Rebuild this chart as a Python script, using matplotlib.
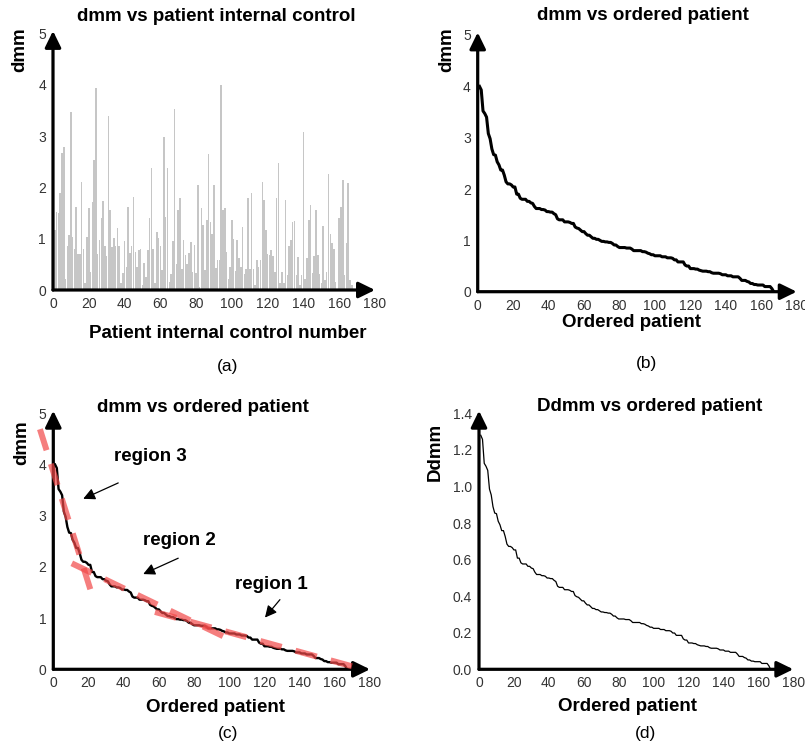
import matplotlib
matplotlib.use('Agg')
import matplotlib.pyplot as plt
import numpy as np

plt.rcParams['font.family'] = ['Liberation Sans', 'DejaVu Sans']

# ---------------- data ----------------
dmm = [1.17, 1.52, 1.50, 1.90, 2.67, 2.78, 0.22, 0.85, 1.07, 3.47,
       1.04, 0.80, 1.62, 0.70, 0.70, 2.10, 0.80, 0.13, 1.04, 1.60,
       0.36, 1.72, 2.53, 3.93, 0.70, 0.97, 1.40, 1.73, 0.86, 0.66,
       3.40, 1.55, 0.83, 1.02, 0.86, 1.20, 0.86, 0.13, 0.33, 0.96,
       0.45, 1.62, 0.72, 0.86, 1.82, 0.74, 0.45, 0.78, 0.80, 0.10,
       0.52, 0.26, 0.78, 1.40, 2.37, 0.80, 0.13, 1.13, 1.02, 0.85,
       0.39, 2.98, 1.42, 2.37, 0.16, 0.31, 0.96, 3.52, 0.50, 1.55,
       1.80, 0.40, 0.98, 0.68, 0.50, 0.72, 0.94, 0.36, 0.88, 0.33,
       2.04, 0.06, 1.60, 1.26, 0.39, 1.36, 2.66, 1.33, 1.10, 2.04,
       0.42, 0.58, 0.58, 4.00, 1.56, 1.59, 0.75, 0.22, 0.45, 1.36,
       1.00, 0.37, 0.97, 0.62, 0.44, 1.23, 0.31, 0.40, 1.80, 0.40,
       1.90, 0.41, 0.10, 0.58, 0.44, 0.58, 2.10, 1.76, 1.17, 0.70,
       0.68, 0.77, 0.66, 0.36, 1.80, 2.47, 0.14, 0.36, 0.13, 1.76,
       0.29, 0.85, 0.98, 1.33, 1.35, 0.29, 0.65, 0.10, 0.29, 3.08,
       0.22, 0.62, 1.36, 1.66, 0.33, 0.66, 1.56, 0.68, 0.31, 0.14,
       1.24, 0.20, 0.35, 2.27, 1.10, 0.91, 0.80, 0.16, 0.00, 1.40,
       1.62, 2.14, 0.29, 0.91, 2.08, 0.19, 0.10]
patients = np.arange(1, len(dmm) + 1)

ordered_dmm = sorted(dmm, reverse=True)
ordered_x = np.arange(1, len(ordered_dmm) + 1)
DDMM_SCALE = 0.32
ddmm = [v * DDMM_SCALE for v in ordered_dmm]

# fitted straight lines of panel (c): (x pair, y pair)
region3_x, region3_y = [-7.6, 21.8], [4.69, 1.48]
region2_x, region2_y = [10.5, 97.5], [2.07, 0.63]
region1_x, region1_y = [57.8, 176.0], [1.12, 0.00]

region_labels = ['region 3', 'region 2', 'region 1']
region_text_xy = [(55, 4.15), (71.6, 2.52), (124, 1.66)]
region_arrow_from = [(36.9, 3.64), (71.0, 2.17), (128.8, 1.36)]
region_arrow_to = [(17.0, 3.33), (51.1, 1.86), (120.3, 1.01)]

x_ticks = list(range(0, 181, 20))
dmm_ticks = [0, 1, 2, 3, 4, 5]
ddmm_ticks = [0.0, 0.2, 0.4, 0.6, 0.8, 1.0, 1.2, 1.4]

# ---------------- figure ----------------
W, H = 805, 746
fig = plt.figure(figsize=(W / 100, H / 100), dpi=100)


def rect(x0, x1, y0, y1):
    """pixel box (x0 left, x1 right, y0 bottom, y1 top) -> figure fraction"""
    return [x0 / W, 1 - y0 / H, (x1 - x0) / W, (y0 - y1) / H]


def fx(x, y):
    return x / W, 1 - y / H


def setup(ax, ymax, yticks, yfmt):
    ax.set_xlim(0, 180)
    ax.set_ylim(0, ymax)
    for s in ax.spines.values():
        s.set_visible(False)
    ax.set_xticks(x_ticks)
    ax.set_yticks(yticks)
    ax.set_yticklabels([yfmt.format(t) for t in yticks])
    ax.tick_params(length=0, labelsize=10, pad=5, colors='#333333')
    ap = dict(arrowstyle='-|>,head_length=0.45,head_width=0.22', mutation_scale=22,
              lw=2.3, color='black', shrinkA=0, shrinkB=0)
    ax.annotate('', xy=(1.0, 0), xytext=(0, 0), xycoords='axes fraction',
                arrowprops=ap, annotation_clip=False)
    ax.annotate('', xy=(0, 1.01), xytext=(0, 0), xycoords='axes fraction',
                arrowprops=ap, annotation_clip=False)


title_kw = dict(fontsize=13.5, fontweight='bold', ha='center', va='center')
lab_kw = dict(fontsize=13.5, fontweight='bold', ha='center', va='center')

# (a)
axa = fig.add_axes(rect(53, 375, 290, 33.5))
setup(axa, 5, dmm_ticks, '{:d}')
axa.bar(patients, dmm, width=0.86, color='#c6c6c6', linewidth=0, zorder=1)
fig.text(*fx(216.7, 16.7), 'dmm vs patient internal control', **title_kw)
fig.text(*fx(20, 50), 'dmm', rotation=90, **lab_kw)
fig.text(*fx(227.6, 333), 'Patient internal control number', **lab_kw)
fig.text(*fx(228, 366.7), '(a)', fontsize=12.5, ha='center', va='center')

# (b)
axb = fig.add_axes(rect(477.7, 796.7, 291.7, 35))
setup(axb, 5, dmm_ticks, '{:d}')
axb.plot(ordered_x, ordered_dmm, color='black', lw=2.2)
fig.text(*fx(643, 15), 'dmm vs ordered patient', **title_kw)
fig.text(*fx(446.7, 50), 'dmm', rotation=90, **lab_kw)
fig.text(*fx(631, 322), 'Ordered patient', **lab_kw)
fig.text(*fx(646.7, 363.3), '(b)', fontsize=12.5, ha='center', va='center')

# (c)
axc = fig.add_axes(rect(53.3, 370, 669.3, 413.3))
setup(axc, 5, dmm_ticks, '{:d}')
axc.plot(ordered_x, ordered_dmm, color='black', lw=1.7, zorder=2)
for xs, ys in [(region3_x, region3_y), (region2_x, region2_y), (region1_x, region1_y)]:
    axc.plot(xs, ys, color='#f24848', alpha=0.7, lw=4.3,
             linestyle=(0, (3.7, 2.4)), solid_capstyle='butt',
             clip_on=False, zorder=3)
for lab, txy, a0, a1 in zip(region_labels, region_text_xy, region_arrow_from, region_arrow_to):
    axc.text(txy[0], txy[1], lab, fontsize=13.5, fontweight='bold', ha='center', va='center')
    axc.annotate('', xy=a1, xytext=a0,
                 arrowprops=dict(arrowstyle='-|>,head_length=0.5,head_width=0.25',
                                 mutation_scale=14, lw=0.9, color='black',
                                 shrinkA=0, shrinkB=0))
fig.text(*fx(203, 408), 'dmm vs ordered patient', **title_kw)
fig.text(*fx(21.7, 443), 'dmm', rotation=90, **lab_kw)
fig.text(*fx(216, 708), 'Ordered patient', **lab_kw)
fig.text(*fx(227.7, 733.3), '(c)', fontsize=12.5, ha='center', va='center')

# (d)
axd = fig.add_axes(rect(479, 793.3, 669.3, 413.3))
setup(axd, 1.4, ddmm_ticks, '{:.1f}')
axd.plot(ordered_x, ddmm, color='black', lw=0.9)
fig.text(*fx(650, 406.7), 'Ddmm vs ordered patient', **title_kw)
fig.text(*fx(435, 451.7), 'Ddmm', rotation=90, **lab_kw)
fig.text(*fx(627.5, 706.7), 'Ordered patient', **lab_kw)
fig.text(*fx(645.7, 733.3), '(d)', fontsize=12.5, ha='center', va='center')

fig.savefig('out.png', dpi=100)
